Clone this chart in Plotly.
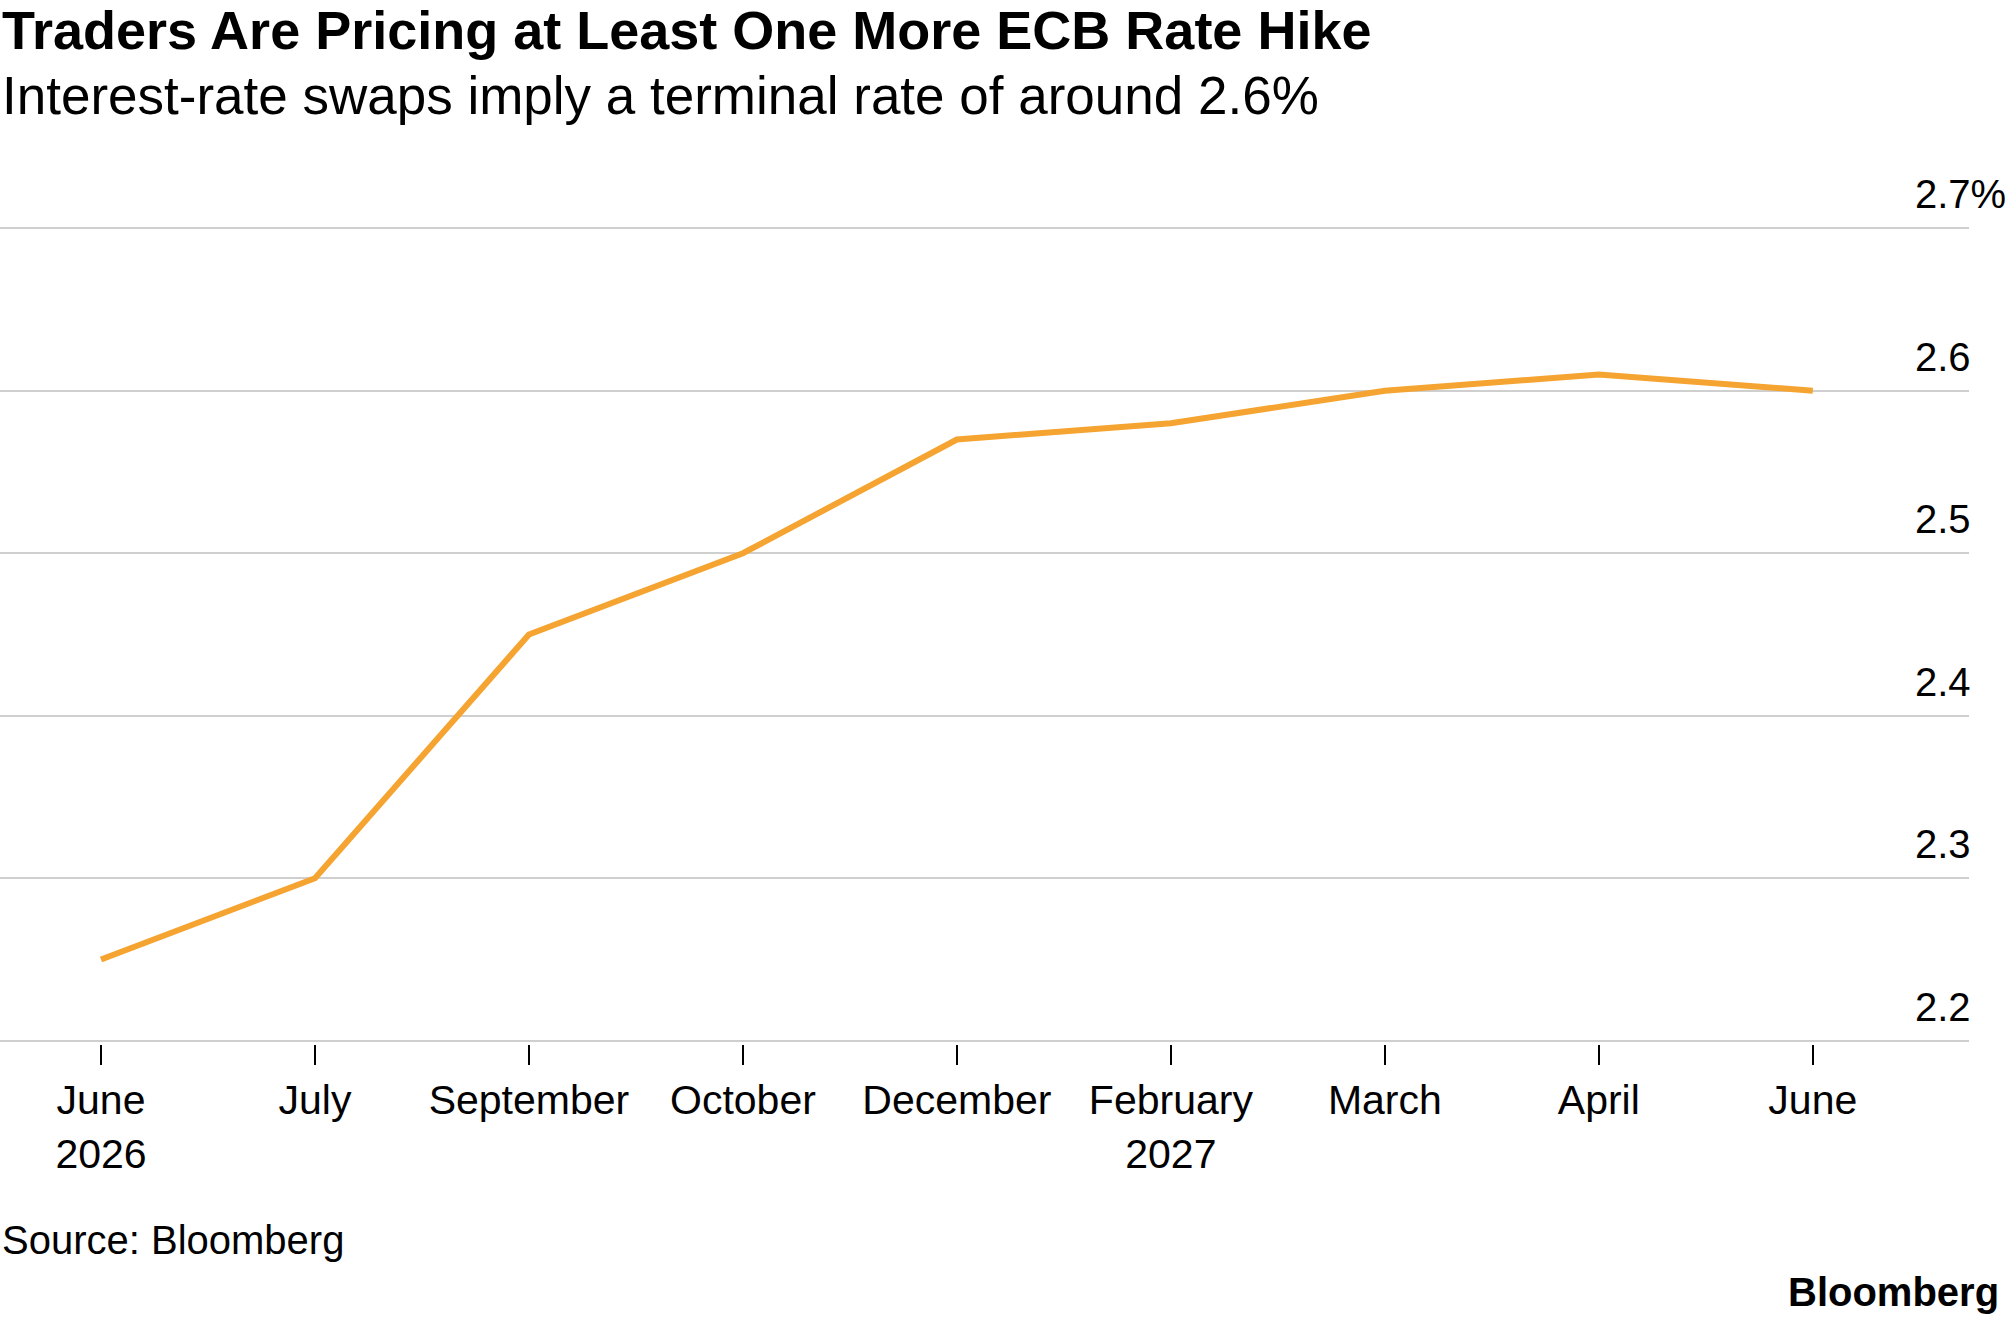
import plotly.graph_objects as go

months = ["June<br>2026", "July", "September", "October", "December",
          "February<br>2027", "March", "April", "June"]
rates = [2.25, 2.30, 2.45, 2.50, 2.57, 2.58, 2.60, 2.61, 2.60]
ytick_vals = [2.2, 2.3, 2.4, 2.5, 2.6, 2.7]
ytick_text = ["2.2", "2.3", "2.4", "2.5", "2.6", "2.7%"]

FONT = "Liberation Sans, Arial, sans-serif"
W, H = 2005, 1323
ML, MR, MT, MB = 0, 36, 225, 279
plot_h = H - MT - MB

def py(px):
    # pixel row -> paper y
    return (H - MB - px) / plot_h

fig = go.Figure()
fig.add_trace(go.Scatter(
    x=months, y=rates, mode="lines",
    line=dict(color="#F5A431", width=6),
    hoverinfo="skip", showlegend=False,
))

fig.update_layout(
    width=W, height=H,
    margin=dict(l=ML, r=MR, t=MT, b=MB, pad=0),
    paper_bgcolor="white", plot_bgcolor="white",
    font=dict(family=FONT, color="black", size=40),
    xaxis=dict(
        type="category", range=[-0.472, 8.73],
        showgrid=False, zeroline=False, showline=False,
        ticks="outside", ticklen=20, tickwidth=2, tickcolor="black",
        tickfont=dict(size=41, family=FONT, color="black"),
        ticklabelstandoff=0,
    ),
    yaxis=dict(
        range=[2.198, 2.702], side="right",
        tickvals=ytick_vals, ticktext=ytick_text,
        showgrid=True, gridcolor="#cfcfcf", gridwidth=2,
        zeroline=False, showline=False, ticks="",
        tickfont=dict(size=40, family=FONT, color="black"),
        ticklabelstandoff=-55, ticklabelshift=-34,
    ),
    annotations=[
        dict(text="<b>Traders Are Pricing at Least One More ECB Rate Hike</b>",
             xref="paper", yref="paper", x=0, y=py(30), xanchor="left", yanchor="middle",
             showarrow=False, font=dict(size=54, family=FONT, color="black")),
        dict(text="Interest-rate swaps imply a terminal rate of around 2.6%",
             xref="paper", yref="paper", x=0, y=py(96), xanchor="left", yanchor="middle",
             showarrow=False, font=dict(size=53, family=FONT, color="black")),
        dict(text="Source: Bloomberg",
             xref="paper", yref="paper", x=0, y=py(1240), xanchor="left", yanchor="middle",
             showarrow=False, font=dict(size=40, family=FONT, color="black")),
        dict(text="<b>Bloomberg</b>",
             xref="paper", yref="paper", x=(W - 4) / (W - MR), y=py(1292), xanchor="right", yanchor="middle",
             showarrow=False, font=dict(size=40, family=FONT, color="black")),
    ],
)

fig.write_html("out.html")
